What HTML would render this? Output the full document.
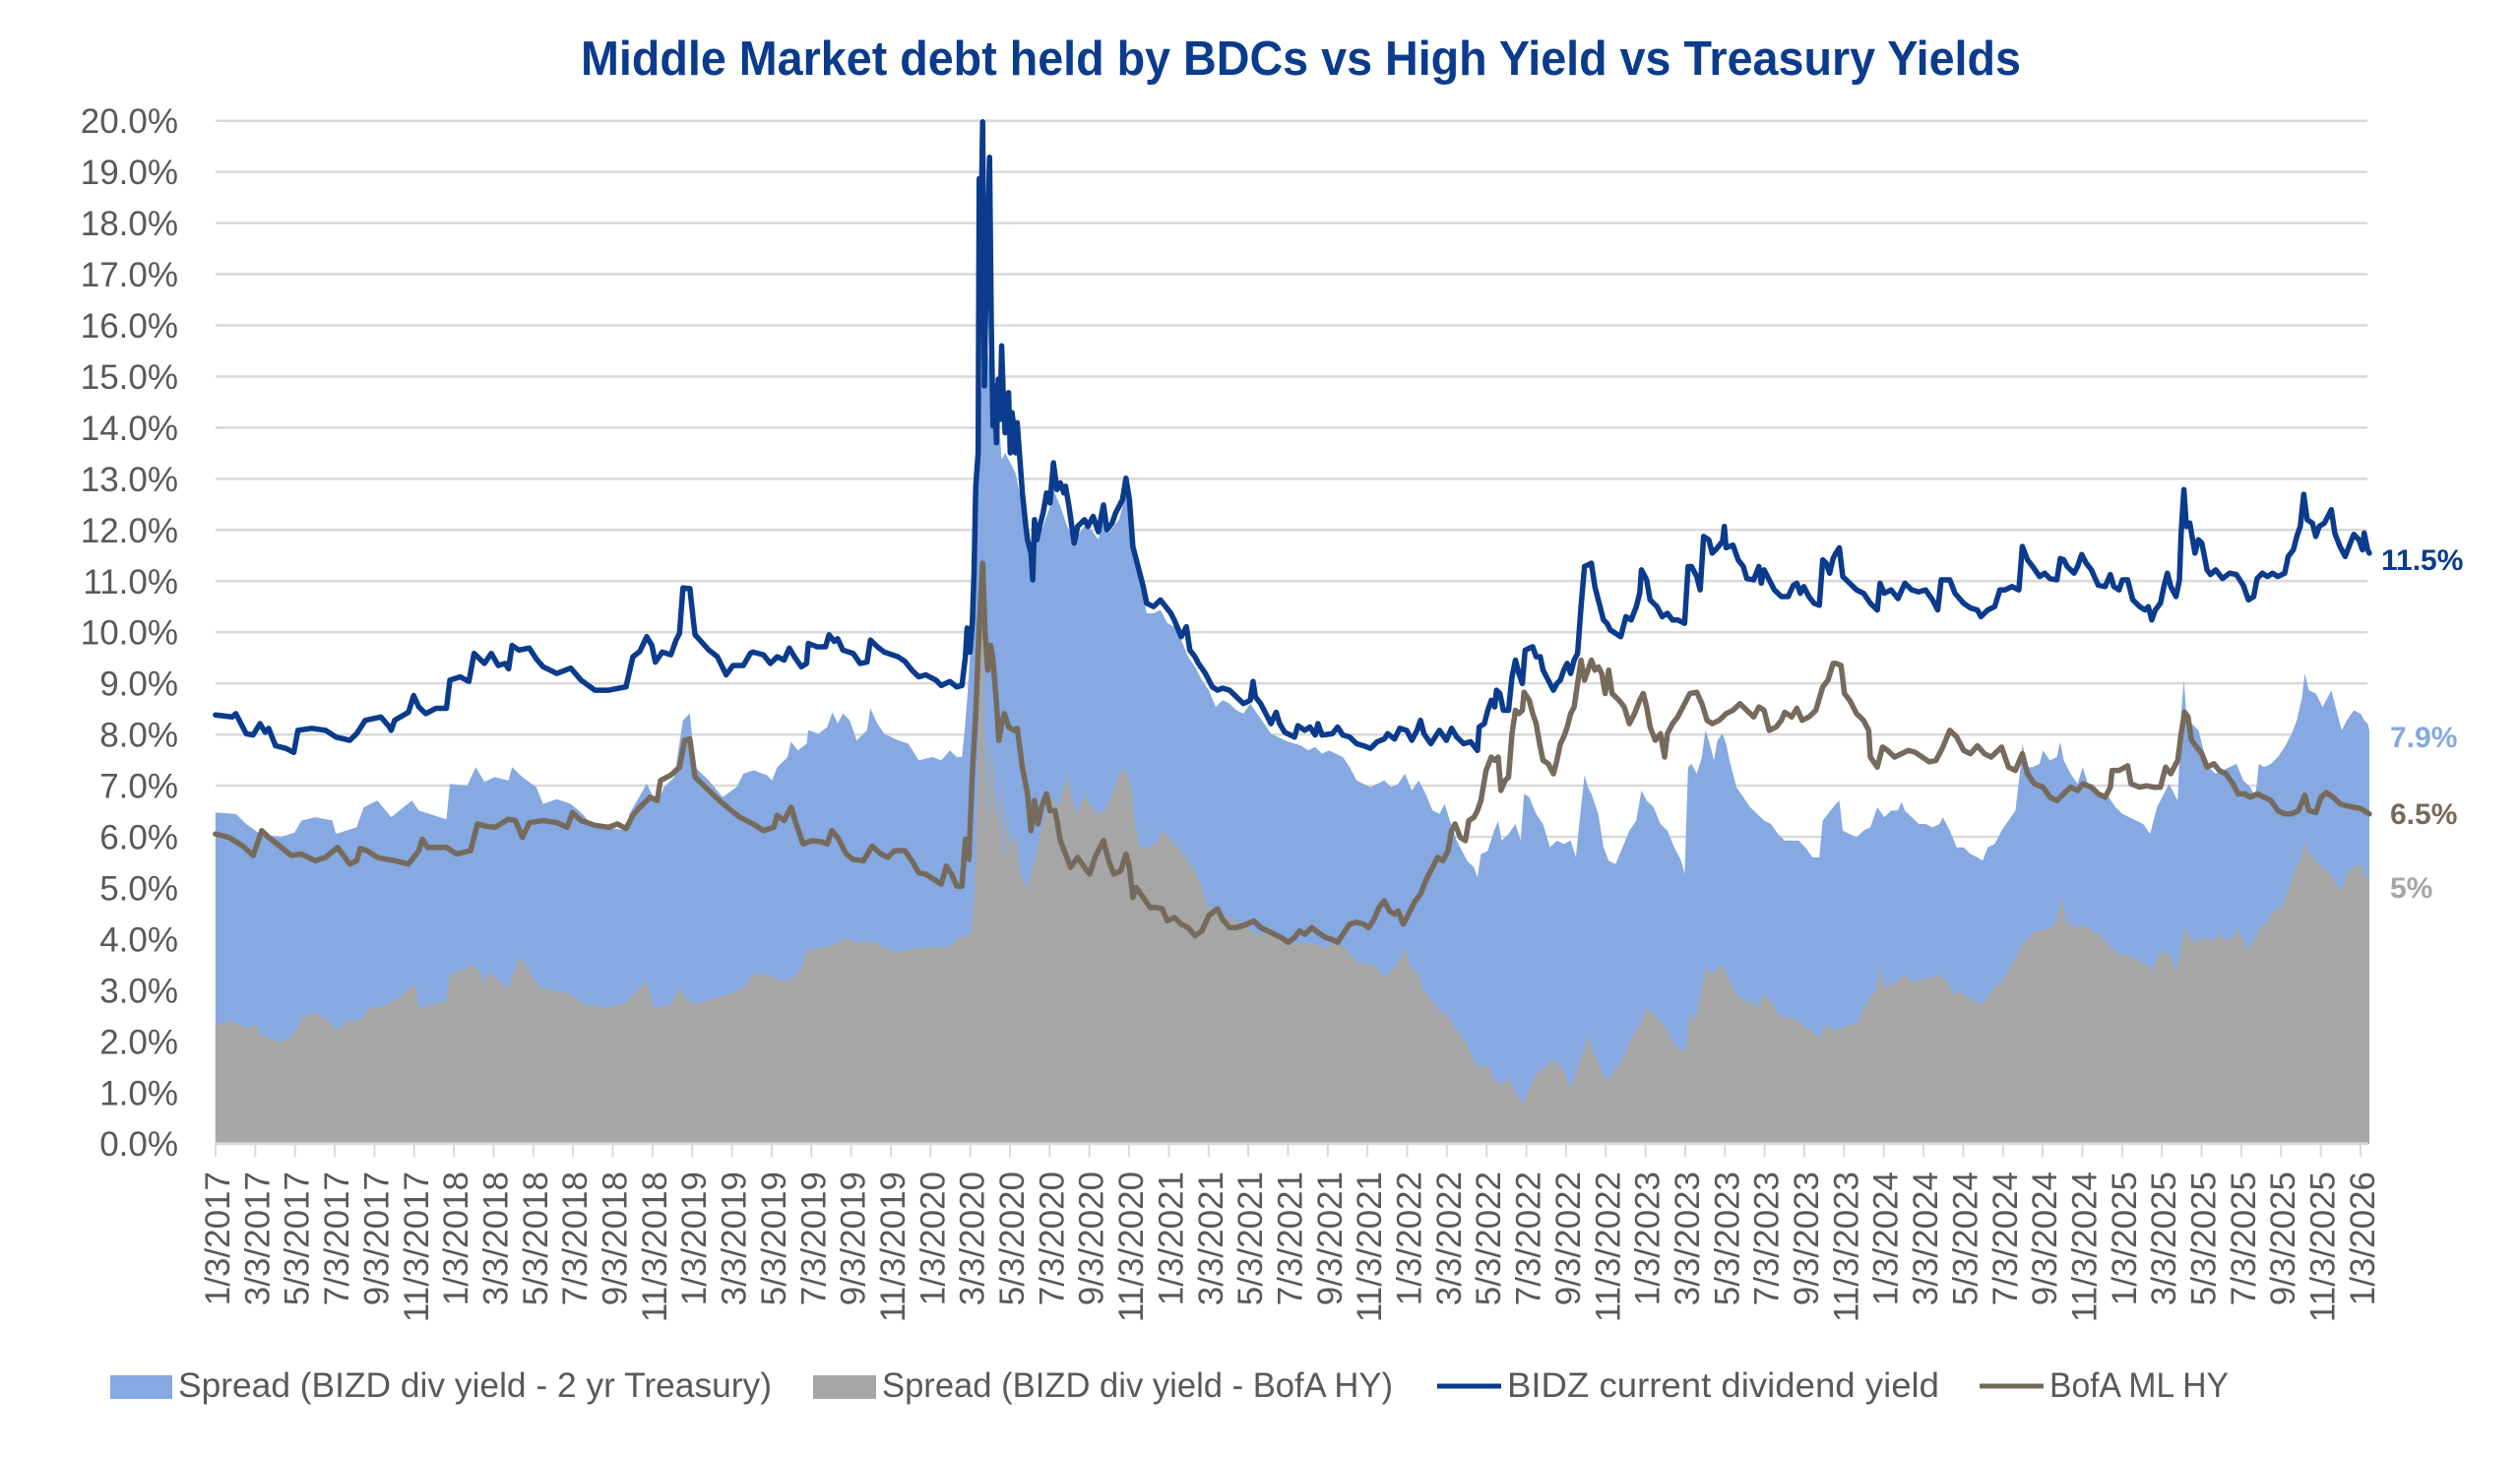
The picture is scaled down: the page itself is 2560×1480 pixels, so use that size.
<!DOCTYPE html>
<html><head><meta charset="utf-8"><style>
html,body{margin:0;padding:0;background:#fff;}
svg{display:block;}
text{font-family:"Liberation Sans",sans-serif;}
</style></head><body>
<svg width="2560" height="1480" viewBox="0 0 2560 1480" xmlns="http://www.w3.org/2000/svg">
<rect width="2560" height="1480" fill="#fff"/>
<text x="590" y="76" font-size="49" font-weight="bold" fill="#0b3b8c" textLength="1463" lengthAdjust="spacingAndGlyphs">Middle Market debt held by BDCs vs High Yield vs Treasury Yields</text>
<g stroke="#d9d9d9" stroke-width="2.5">
<line x1="219" x2="2405" y1="122.7" y2="122.7"/><line x1="219" x2="2405" y1="174.65" y2="174.65"/><line x1="219" x2="2405" y1="226.6" y2="226.6"/><line x1="219" x2="2405" y1="278.55" y2="278.55"/><line x1="219" x2="2405" y1="330.5" y2="330.5"/><line x1="219" x2="2405" y1="382.45" y2="382.45"/><line x1="219" x2="2405" y1="434.4" y2="434.4"/><line x1="219" x2="2405" y1="486.35" y2="486.35"/><line x1="219" x2="2405" y1="538.3" y2="538.3"/><line x1="219" x2="2405" y1="590.25" y2="590.25"/><line x1="219" x2="2405" y1="642.2" y2="642.2"/><line x1="219" x2="2405" y1="694.15" y2="694.15"/><line x1="219" x2="2405" y1="746.1" y2="746.1"/><line x1="219" x2="2405" y1="798.05" y2="798.05"/><line x1="219" x2="2405" y1="850" y2="850"/><line x1="219" x2="2405" y1="901.95" y2="901.95"/><line x1="219" x2="2405" y1="953.9" y2="953.9"/><line x1="219" x2="2405" y1="1005.85" y2="1005.85"/><line x1="219" x2="2405" y1="1057.8" y2="1057.8"/><line x1="219" x2="2405" y1="1109.75" y2="1109.75"/>
</g>
<g font-size="35" fill="#595959" text-anchor="end">
<text x="181" y="135.2">20.0%</text><text x="181" y="187.15">19.0%</text><text x="181" y="239.1">18.0%</text><text x="181" y="291.05">17.0%</text><text x="181" y="343">16.0%</text><text x="181" y="394.95">15.0%</text><text x="181" y="446.9">14.0%</text><text x="181" y="498.85">13.0%</text><text x="181" y="550.8">12.0%</text><text x="181" y="602.75">11.0%</text><text x="181" y="654.7">10.0%</text><text x="181" y="706.65">9.0%</text><text x="181" y="758.6">8.0%</text><text x="181" y="810.55">7.0%</text><text x="181" y="862.5">6.0%</text><text x="181" y="914.45">5.0%</text><text x="181" y="966.4">4.0%</text><text x="181" y="1018.35">3.0%</text><text x="181" y="1070.3">2.0%</text><text x="181" y="1122.25">1.0%</text><text x="181" y="1174.2">0.0%</text>
</g>

<!-- Blue area -->
<g fill="#85a9e0">
<polygon transform="translate(215,100) scale(0.35077,0.67921)" points="11,1563.5 11,1068 70,1070 100,1085 140,1100 200,1105 240,1098 260,1080 300,1075 350,1080 360,1100 420,1090 440,1060 480,1050 520,1075 580,1050 600,1065 680,1078 690,1025 740,1028 765,1000 790,1022 820,1015 860,1020 870,1000 900,1015 940,1030 960,1055 1000,1048 1040,1055 1070,1068 1100,1085 1150,1090 1200,1095 1210,1070 1260,1025 1290,1055 1310,1030 1340,1015 1365,930 1385,920 1400,1000 1440,1020 1480,1045 1520,1030 1540,1010 1568,1005 1578,1005 1578,1563.5"/>
<polygon transform="translate(765,100) scale(0.35077,0.67921)" points="0,1563.5 0,1005 40,1012 55,1020 70,1000 100,985 110,962 130,975 155,965 160,945 190,950 215,940 230,918 245,935 260,920 280,930 300,960 330,945 340,912 360,935 380,950 420,960 450,965 480,990 520,985 545,990 570,975 590,985 605,985 612,950 620,900 630,820 640,700 650,560 660,440 670,330 680,380 690,420 700,500 710,470 720,540 730,530 740,540 760,560 780,610 800,680 810,700 820,660 840,640 860,610 870,585 890,610 910,640 930,660 960,640 980,645 1000,660 1015,620 1030,650 1060,630 1080,590 1090,620 1100,680 1120,720 1140,770 1160,770 1180,765 1200,785 1220,790 1240,810 1260,835 1280,850 1300,870 1320,885 1340,910 1360,900 1380,905 1400,915 1420,920 1440,905 1460,920 1480,935 1500,950 1520,955 1540,960 1568,965 1578,965 1578,1563.5"/>
<polygon transform="translate(1315,100) scale(0.35077,0.67921)" points="0,1563.5 0,965 20,968 40,975 60,970 80,980 100,975 120,980 140,985 160,1000 180,1020 200,1025 220,1030 240,1025 260,1020 280,1030 300,1025 320,1010 340,1035 360,1020 380,1040 400,1065 420,1070 435,1055 450,1080 470,1110 480,1120 500,1140 520,1150 530,1165 540,1130 560,1125 575,1100 590,1080 600,1110 620,1100 640,1085 655,1110 665,1040 680,1045 700,1070 720,1085 740,1120 760,1110 780,1115 800,1110 815,1135 830,1060 840,1012 850,1030 860,1040 880,1070 895,1120 910,1140 930,1145 950,1120 970,1095 990,1080 1005,1035 1020,1050 1040,1060 1060,1085 1080,1095 1100,1120 1120,1140 1130,1160 1140,1000 1150,995 1165,1010 1180,985 1190,945 1200,960 1215,990 1225,960 1240,950 1250,965 1260,990 1280,1030 1300,1045 1320,1060 1340,1070 1360,1080 1380,1085 1400,1100 1420,1110 1440,1110 1460,1110 1480,1120 1500,1135 1520,1135 1530,1080 1545,1070 1568,1055 1578,1055 1578,1563.5"/>
<polygon transform="translate(1865,100) scale(0.35077,0.67921)" points="0,1563.5 0,1055 10,1050 20,1095 40,1100 60,1105 80,1095 100,1090 120,1060 140,1075 160,1065 180,1065 190,1052 200,1065 220,1075 240,1085 260,1085 280,1090 300,1085 310,1075 330,1095 350,1120 370,1120 390,1130 410,1135 425,1140 440,1120 460,1115 480,1095 500,1080 520,1065 535,1000 540,965 555,1000 570,1000 590,995 600,975 620,990 640,985 650,962 660,990 680,1010 700,1025 715,1000 730,1025 750,1035 770,1040 790,1045 810,1060 830,1070 850,1075 870,1080 890,1085 910,1100 920,1080 930,1060 950,1040 965,1025 980,1040 990,1050 1000,920 1008,870 1015,920 1030,935 1050,945 1065,975 1080,1000 1100,1010 1120,1005 1140,1000 1160,995 1180,1020 1200,1030 1215,1045 1225,995 1240,1000 1260,995 1280,985 1300,970 1320,950 1335,930 1350,895 1358,860 1370,885 1390,890 1410,910 1420,900 1435,885 1450,915 1465,945 1480,930 1500,915 1520,920 1530,930 1540,935 1545,945 1545,1563.5"/>
</g>

<!-- Gray area -->
<g fill="#a6a6a6">
<polygon transform="translate(215,100) scale(0.35077,0.67921)" points="11,1563.5 11,1385 60,1380 100,1390 130,1385 140,1400 200,1412 240,1400 260,1375 300,1368 340,1380 360,1395 390,1380 430,1378 460,1360 500,1358 540,1345 590,1325 600,1360 680,1350 690,1310 740,1300 760,1295 790,1320 810,1305 840,1325 860,1330 880,1300 895,1285 920,1305 950,1330 1000,1335 1040,1340 1080,1355 1150,1360 1200,1352 1230,1335 1260,1320 1280,1360 1330,1355 1355,1330 1370,1345 1400,1355 1460,1345 1500,1340 1540,1330 1568,1310 1578,1310 1578,1563.5"/>
<polygon transform="translate(765,100) scale(0.35077,0.67921)" points="0,1563.5 0,1310 40,1310 80,1320 110,1318 140,1300 155,1275 200,1270 240,1265 270,1255 300,1262 350,1262 380,1270 420,1278 460,1272 500,1270 540,1270 570,1268 600,1255 630,1250 640,1200 645,1130 650,1060 655,880 660,790 665,720 670,1000 675,930 680,1100 690,960 700,1040 710,1100 718,1005 725,1150 735,1060 745,1120 760,1100 775,1160 790,1180 800,1170 820,1130 840,1080 860,1040 880,1060 900,1030 910,1015 925,1050 940,1070 960,1040 980,1060 1000,1070 1020,1065 1040,1040 1060,1010 1080,1005 1095,1030 1105,1080 1120,1120 1150,1120 1170,1110 1190,1095 1210,1110 1230,1120 1260,1140 1280,1155 1300,1180 1310,1200 1330,1215 1360,1220 1400,1230 1430,1240 1460,1250 1500,1250 1540,1255 1568,1265 1578,1265 1578,1563.5"/>
<polygon transform="translate(1315,100) scale(0.35077,0.67921)" points="0,1563.5 0,1265 30,1262 60,1265 90,1270 120,1262 140,1268 160,1280 180,1290 200,1295 230,1295 260,1315 290,1300 310,1285 320,1270 335,1300 360,1310 375,1335 400,1350 420,1365 440,1370 460,1385 480,1400 500,1415 520,1440 540,1450 560,1445 580,1470 600,1475 620,1465 640,1485 660,1505 680,1480 700,1460 720,1450 740,1440 760,1440 780,1455 800,1480 820,1450 840,1420 850,1400 860,1420 880,1440 900,1470 920,1460 940,1445 960,1425 980,1400 1000,1385 1020,1360 1040,1370 1060,1380 1080,1395 1100,1415 1120,1425 1135,1420 1145,1370 1160,1380 1180,1330 1190,1300 1210,1310 1240,1295 1260,1320 1280,1340 1300,1350 1320,1350 1340,1360 1360,1340 1380,1350 1400,1370 1420,1375 1440,1375 1460,1380 1480,1390 1500,1395 1520,1405 1530,1395 1545,1385 1568,1395 1578,1395 1578,1563.5"/>
<polygon transform="translate(1865,100) scale(0.35077,0.67921)" points="0,1563.5 0,1395 20,1390 40,1385 60,1385 80,1360 100,1345 120,1330 128,1295 140,1330 160,1325 180,1320 200,1310 220,1320 240,1320 260,1315 280,1315 300,1310 320,1320 340,1340 360,1335 380,1345 400,1350 420,1355 440,1345 460,1330 480,1320 500,1305 520,1285 540,1265 560,1255 580,1245 600,1245 620,1240 640,1230 655,1195 665,1230 680,1235 700,1240 720,1235 740,1245 760,1250 780,1260 800,1270 820,1280 840,1280 860,1285 880,1290 900,1295 915,1305 930,1285 950,1275 970,1285 985,1305 1000,1270 1010,1240 1030,1260 1050,1260 1070,1255 1090,1260 1110,1250 1130,1260 1150,1255 1165,1240 1180,1260 1195,1275 1210,1260 1230,1240 1250,1230 1270,1215 1290,1210 1310,1185 1330,1150 1345,1140 1358,1110 1370,1130 1390,1140 1410,1150 1430,1160 1450,1175 1465,1185 1480,1160 1500,1150 1520,1145 1530,1160 1545,1170 1545,1563.5"/>
</g>

<!-- axis line & ticks -->
<line x1="219" x2="2406" y1="1161.7" y2="1161.7" stroke="#d9d9d9" stroke-width="3"/>
<path stroke="#d9d9d9" stroke-width="2" fill="none" d="M219 1162v13M259.35 1162v13M299.7 1162v13M340.05 1162v13M380.4 1162v13M420.75 1162v13M461.1 1162v13M501.45 1162v13M541.8 1162v13M582.15 1162v13M622.5 1162v13M662.85 1162v13M703.2 1162v13M743.55 1162v13M783.9 1162v13M824.25 1162v13M864.6 1162v13M904.95 1162v13M945.3 1162v13M985.65 1162v13M1026 1162v13M1066.35 1162v13M1106.7 1162v13M1147.05 1162v13M1187.4 1162v13M1227.75 1162v13M1268.1 1162v13M1308.45 1162v13M1348.8 1162v13M1389.15 1162v13M1429.5 1162v13M1469.85 1162v13M1510.2 1162v13M1550.55 1162v13M1590.9 1162v13M1631.25 1162v13M1671.6 1162v13M1711.95 1162v13M1752.3 1162v13M1792.65 1162v13M1833 1162v13M1873.35 1162v13M1913.7 1162v13M1954.05 1162v13M1994.4 1162v13M2034.75 1162v13M2075.1 1162v13M2115.45 1162v13M2155.8 1162v13M2196.15 1162v13M2236.5 1162v13M2276.85 1162v13M2317.2 1162v13M2357.55 1162v13M2397.9 1162v13"/>

<!-- Brown line -->
<g fill="none" stroke="#766a5c" stroke-width="5.5" stroke-linejoin="round" stroke-linecap="round">
<polyline vector-effect="non-scaling-stroke" transform="translate(215,100) scale(0.35077,0.67921)" points="11,1100 50,1105 90,1118 120,1132 145,1095 165,1105 190,1115 230,1132 260,1130 300,1140 330,1135 365,1120 400,1145 420,1140 430,1122 450,1125 480,1135 530,1140 570,1145 600,1125 610,1108 625,1120 680,1120 710,1130 750,1125 770,1085 790,1088 820,1090 860,1078 880,1080 900,1105 920,1083 960,1080 1000,1083 1030,1090 1045,1068 1070,1080 1110,1087 1150,1090 1175,1085 1200,1092 1220,1072 1240,1060 1270,1045 1290,1050 1300,1020 1330,1012 1355,1000 1370,960 1385,958 1400,1015 1430,1030 1460,1045 1500,1063 1530,1075 1568,1085"/>
<polyline vector-effect="non-scaling-stroke" transform="translate(765,100) scale(0.35077,0.67921)" points="0,1085 30,1095 60,1090 70,1072 90,1080 110,1060 125,1085 145,1115 170,1110 200,1112 215,1115 228,1095 245,1105 270,1130 290,1138 320,1140 345,1118 370,1130 390,1135 410,1125 440,1125 460,1140 480,1158 500,1160 530,1170 545,1175 560,1148 575,1160 590,1178 605,1178 615,1108 625,1138 635,1010 645,920 655,790 665,695 672,800 680,855 688,818 695,840 705,905 712,960 720,935 728,920 740,940 755,945 765,942 780,1000 795,1040 805,1095 815,1050 825,1085 835,1060 850,1040 860,1065 875,1065 890,1110 905,1130 920,1150 940,1135 960,1150 975,1160 990,1135 1015,1110 1030,1140 1045,1160 1065,1155 1080,1130 1090,1150 1100,1195 1110,1180 1130,1195 1150,1210 1170,1210 1185,1212 1200,1230 1220,1225 1240,1235 1260,1240 1280,1252 1300,1245 1320,1222 1345,1212 1360,1228 1380,1240 1400,1240 1430,1235 1450,1230 1470,1240 1490,1245 1510,1250 1530,1255 1550,1262 1568,1255"/>
<polyline vector-effect="non-scaling-stroke" transform="translate(1315,100) scale(0.35077,0.67921)" points="0,1255 15,1245 30,1250 50,1240 70,1248 90,1255 110,1258 125,1262 140,1250 160,1235 180,1232 200,1235 215,1240 230,1228 245,1210 260,1200 275,1215 290,1220 300,1215 315,1235 330,1220 350,1200 365,1190 380,1170 400,1150 415,1135 430,1140 445,1125 455,1095 465,1085 480,1105 495,1110 505,1080 520,1075 530,1065 540,1050 555,1005 570,985 580,990 590,985 598,1035 610,1020 620,1015 630,950 640,915 650,920 660,915 665,888 680,900 690,920 700,935 710,965 720,990 735,995 750,1010 760,990 770,965 780,955 790,940 800,920 810,910 820,875 830,840 840,870 850,855 860,840 870,855 880,850 890,860 900,890 910,855 920,890 940,900 955,910 970,935 985,920 1000,900 1010,890 1020,910 1030,940 1045,960 1060,950 1072,985 1080,950 1095,935 1110,925 1125,910 1145,890 1165,888 1180,905 1195,930 1210,935 1230,930 1250,920 1270,915 1290,905 1310,915 1330,925 1345,910 1360,915 1375,945 1395,940 1410,930 1420,918 1440,925 1455,912 1470,930 1490,925 1510,915 1530,880 1545,870 1560,845 1568,845"/>
<polyline vector-effect="non-scaling-stroke" transform="translate(1865,100) scale(0.35077,0.67921)" points="0,845 15,848 25,890 40,900 60,920 80,930 95,945 100,985 120,1000 135,970 150,975 170,985 190,980 210,975 230,978 250,985 270,992 290,990 310,970 330,945 350,955 370,975 390,980 410,968 430,980 450,985 470,975 480,970 500,1000 520,1005 540,980 555,1010 575,1025 600,1030 620,1045 640,1050 660,1040 680,1030 700,1035 715,1025 740,1030 760,1040 780,1045 795,1030 800,1005 820,1005 845,998 855,1025 880,1030 900,1028 920,1030 940,1030 955,1000 970,1010 990,990 1000,950 1010,918 1020,925 1030,960 1045,970 1060,980 1075,1000 1095,995 1110,1005 1130,1010 1150,1025 1165,1040 1185,1040 1200,1045 1220,1040 1240,1045 1260,1050 1280,1065 1300,1070 1320,1070 1340,1065 1358,1042 1370,1065 1390,1068 1405,1045 1420,1038 1440,1045 1460,1055 1480,1058 1500,1060 1520,1062 1545,1070"/>
</g>

<!-- BIZD line -->
<g fill="none" stroke="#0b3b8c" stroke-width="5.5" stroke-linejoin="round" stroke-linecap="round">
<polyline vector-effect="non-scaling-stroke" transform="translate(215,100) scale(0.35077,0.67921)" points="11,922 60,925 70,920 100,950 120,952 140,935 155,948 165,942 185,968 215,972 238,978 250,945 290,942 330,945 360,955 400,960 420,950 445,930 490,925 515,940 520,945 530,930 570,918 585,893 600,910 620,920 650,912 680,912 690,870 720,865 745,872 760,830 790,845 810,830 830,848 850,845 860,853 870,818 890,825 920,822 940,838 960,850 1000,860 1040,852 1070,870 1110,885 1150,885 1200,880 1220,835 1240,827 1260,805 1275,818 1285,843 1305,828 1330,832 1345,810 1355,800 1365,732 1385,733 1395,780 1400,802 1440,825 1465,835 1490,862 1510,848 1540,848 1560,830 1568,828"/>
<polyline vector-effect="non-scaling-stroke" transform="translate(765,100) scale(0.35077,0.67921)" points="0,828 30,832 50,845 70,835 90,840 105,822 120,835 140,850 155,845 160,815 185,820 210,820 220,802 235,812 245,808 260,825 290,830 310,845 330,843 340,810 360,820 380,828 420,835 440,842 460,855 480,865 500,862 530,870 545,878 570,872 590,880 605,878 615,835 620,792 628,828 635,785 640,710 645,580 652,530 655,120 660,200 665,35 670,430 675,270 680,195 685,88 690,340 695,490 700,430 705,515 710,420 715,480 720,370 725,450 730,500 735,460 740,440 745,530 750,470 755,490 760,530 765,485 770,520 780,590 790,640 795,660 805,680 810,720 815,630 822,660 830,640 840,620 850,590 860,605 870,545 880,585 890,575 900,590 905,580 915,610 930,665 940,640 960,630 970,640 985,625 1000,648 1015,608 1025,645 1040,635 1050,620 1070,600 1080,568 1090,600 1100,670 1110,690 1120,710 1130,730 1140,755 1160,760 1180,750 1195,760 1210,770 1220,780 1240,805 1255,790 1265,825 1280,835 1290,845 1310,860 1320,870 1330,880 1345,885 1360,882 1380,885 1400,895 1420,905 1440,900 1448,872 1455,895 1470,905 1490,925 1500,935 1515,918 1525,935 1540,948 1568,955"/>
<polyline vector-effect="non-scaling-stroke" transform="translate(1315,100) scale(0.35077,0.67921)" points="0,955 10,938 30,945 45,940 60,952 68,935 80,952 110,950 125,940 140,952 160,955 180,965 200,968 220,972 240,962 260,958 270,950 290,958 305,942 325,945 340,960 355,945 365,930 375,950 395,965 420,945 440,960 455,942 470,955 490,965 510,962 530,975 535,940 550,935 560,915 570,900 580,910 585,885 595,890 605,915 620,915 630,865 640,840 650,860 660,875 668,825 690,820 700,835 712,835 720,855 735,870 750,885 760,875 770,870 780,855 790,845 800,860 810,840 820,830 830,760 840,700 860,695 870,730 880,750 895,780 905,785 915,795 930,800 945,805 960,775 975,780 990,760 1000,740 1005,705 1020,720 1030,750 1050,760 1065,775 1080,770 1095,780 1110,780 1130,785 1140,700 1150,700 1165,715 1175,735 1185,655 1200,660 1210,680 1225,672 1240,662 1245,640 1250,672 1270,668 1285,690 1300,700 1310,718 1330,720 1345,700 1352,725 1360,705 1375,720 1390,735 1410,745 1430,745 1445,728 1455,725 1465,740 1475,730 1490,745 1505,755 1520,758 1530,690 1540,695 1550,710 1560,688 1568,680"/>
<polyline vector-effect="non-scaling-stroke" transform="translate(1865,100) scale(0.35077,0.67921)" points="0,680 10,672 20,715 40,725 60,735 80,740 100,755 120,765 128,725 140,740 160,735 180,748 200,725 220,735 240,738 260,735 280,750 295,765 305,720 330,720 345,740 370,755 390,762 410,765 420,775 440,765 460,760 475,735 490,735 510,730 530,735 540,670 555,690 570,700 590,715 605,710 620,718 640,720 650,688 660,690 670,700 690,710 700,700 712,682 725,695 740,705 760,728 780,730 795,712 805,730 820,735 830,720 845,720 860,750 880,760 895,765 905,760 915,780 925,765 940,755 950,730 960,710 970,730 985,745 995,720 1000,650 1008,585 1015,640 1025,635 1040,680 1050,660 1060,665 1075,705 1085,712 1100,705 1120,718 1140,710 1160,712 1180,728 1195,750 1210,745 1220,718 1235,710 1250,715 1265,710 1280,715 1300,710 1310,685 1325,675 1335,655 1345,640 1355,592 1365,630 1380,635 1390,655 1400,640 1415,635 1425,625 1435,615 1445,650 1460,670 1475,685 1490,665 1500,652 1515,660 1525,675 1530,650 1540,675 1545,680"/>
</g>

<!-- end labels -->
<g font-size="30" font-weight="bold">
<text x="2419" y="579" fill="#0b3b8c">11.5%</text>
<text x="2428" y="759" fill="#85a9e0">7.9%</text>
<text x="2428" y="837" fill="#766a5c">6.5%</text>
<text x="2428" y="912" fill="#a6a6a6">5%</text>
</g>

<!-- x labels -->
<g font-size="35" fill="#595959" text-anchor="end">
<text transform="translate(233,1190) rotate(-90)">1/3/2017</text>
<text transform="translate(273.35,1190) rotate(-90)">3/3/2017</text>
<text transform="translate(313.7,1190) rotate(-90)">5/3/2017</text>
<text transform="translate(354.05,1190) rotate(-90)">7/3/2017</text>
<text transform="translate(394.4,1190) rotate(-90)">9/3/2017</text>
<text transform="translate(434.75,1190) rotate(-90)">11/3/2017</text>
<text transform="translate(475.1,1190) rotate(-90)">1/3/2018</text>
<text transform="translate(515.45,1190) rotate(-90)">3/3/2018</text>
<text transform="translate(555.8,1190) rotate(-90)">5/3/2018</text>
<text transform="translate(596.15,1190) rotate(-90)">7/3/2018</text>
<text transform="translate(636.5,1190) rotate(-90)">9/3/2018</text>
<text transform="translate(676.85,1190) rotate(-90)">11/3/2018</text>
<text transform="translate(717.2,1190) rotate(-90)">1/3/2019</text>
<text transform="translate(757.55,1190) rotate(-90)">3/3/2019</text>
<text transform="translate(797.9,1190) rotate(-90)">5/3/2019</text>
<text transform="translate(838.25,1190) rotate(-90)">7/3/2019</text>
<text transform="translate(878.6,1190) rotate(-90)">9/3/2019</text>
<text transform="translate(918.95,1190) rotate(-90)">11/3/2019</text>
<text transform="translate(959.3,1190) rotate(-90)">1/3/2020</text>
<text transform="translate(999.65,1190) rotate(-90)">3/3/2020</text>
<text transform="translate(1040,1190) rotate(-90)">5/3/2020</text>
<text transform="translate(1080.35,1190) rotate(-90)">7/3/2020</text>
<text transform="translate(1120.7,1190) rotate(-90)">9/3/2020</text>
<text transform="translate(1161.05,1190) rotate(-90)">11/3/2020</text>
<text transform="translate(1201.4,1190) rotate(-90)">1/3/2021</text>
<text transform="translate(1241.75,1190) rotate(-90)">3/3/2021</text>
<text transform="translate(1282.1,1190) rotate(-90)">5/3/2021</text>
<text transform="translate(1322.45,1190) rotate(-90)">7/3/2021</text>
<text transform="translate(1362.8,1190) rotate(-90)">9/3/2021</text>
<text transform="translate(1403.15,1190) rotate(-90)">11/3/2021</text>
<text transform="translate(1443.5,1190) rotate(-90)">1/3/2022</text>
<text transform="translate(1483.85,1190) rotate(-90)">3/3/2022</text>
<text transform="translate(1524.2,1190) rotate(-90)">5/3/2022</text>
<text transform="translate(1564.55,1190) rotate(-90)">7/3/2022</text>
<text transform="translate(1604.9,1190) rotate(-90)">9/3/2022</text>
<text transform="translate(1645.25,1190) rotate(-90)">11/3/2022</text>
<text transform="translate(1685.6,1190) rotate(-90)">1/3/2023</text>
<text transform="translate(1725.95,1190) rotate(-90)">3/3/2023</text>
<text transform="translate(1766.3,1190) rotate(-90)">5/3/2023</text>
<text transform="translate(1806.65,1190) rotate(-90)">7/3/2023</text>
<text transform="translate(1847,1190) rotate(-90)">9/3/2023</text>
<text transform="translate(1887.35,1190) rotate(-90)">11/3/2023</text>
<text transform="translate(1927.7,1190) rotate(-90)">1/3/2024</text>
<text transform="translate(1968.05,1190) rotate(-90)">3/3/2024</text>
<text transform="translate(2008.4,1190) rotate(-90)">5/3/2024</text>
<text transform="translate(2048.75,1190) rotate(-90)">7/3/2024</text>
<text transform="translate(2089.1,1190) rotate(-90)">9/3/2024</text>
<text transform="translate(2129.45,1190) rotate(-90)">11/3/2024</text>
<text transform="translate(2169.8,1190) rotate(-90)">1/3/2025</text>
<text transform="translate(2210.15,1190) rotate(-90)">3/3/2025</text>
<text transform="translate(2250.5,1190) rotate(-90)">5/3/2025</text>
<text transform="translate(2290.85,1190) rotate(-90)">7/3/2025</text>
<text transform="translate(2331.2,1190) rotate(-90)">9/3/2025</text>
<text transform="translate(2371.55,1190) rotate(-90)">11/3/2025</text>
<text transform="translate(2411.9,1190) rotate(-90)">1/3/2026</text>
</g>

<!-- legend -->
<rect x="112" y="1397" width="63" height="24" fill="#85a9e0"/>
<text x="181" y="1419" font-size="35" fill="#595959" textLength="603" lengthAdjust="spacingAndGlyphs">Spread (BIZD div yield - 2 yr Treasury)</text>
<rect x="826" y="1397" width="64" height="24" fill="#a6a6a6"/>
<text x="896" y="1419" font-size="35" fill="#595959" textLength="519" lengthAdjust="spacingAndGlyphs">Spread (BIZD div yield - BofA HY)</text>
<line x1="1460" x2="1525" y1="1408" y2="1408" stroke="#0b3b8c" stroke-width="5"/>
<text x="1531" y="1419" font-size="35" fill="#595959" textLength="439" lengthAdjust="spacingAndGlyphs">BIDZ current dividend yield</text>
<line x1="2011" x2="2076" y1="1408" y2="1408" stroke="#766a5c" stroke-width="5"/>
<text x="2082" y="1419" font-size="35" fill="#595959" textLength="182" lengthAdjust="spacingAndGlyphs">BofA ML HY</text>
</svg>
</body></html>
